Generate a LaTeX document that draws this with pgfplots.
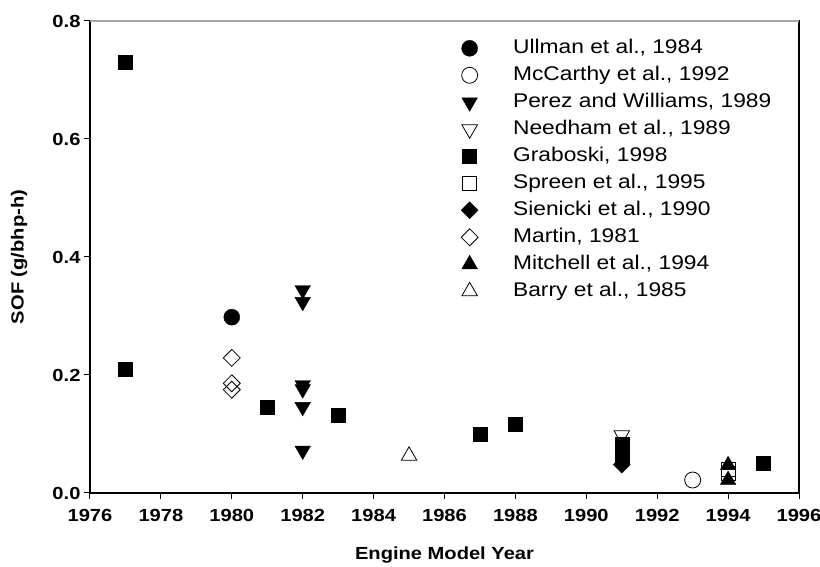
\documentclass[border=0pt]{standalone}
\usepackage{fontspec}
\setmainfont{Liberation Sans}[FakeStretch=1.15]
\usepackage{pgfplots}
\pgfplotsset{compat=1.18}
\newcommand{\lgap}{\hspace*{33pt}}
\begin{document}
\begin{tikzpicture}
\path[use as bounding box] (-90pt,-74pt) rectangle (730pt,493pt);
\begin{axis}[
  at={(0pt,0pt)}, anchor=south west,
  scale only axis, width=709pt, height=472pt,
  xmin=1976, xmax=1996, ymin=0, ymax=0.8,
  xtick={1976,1978,1980,1982,1984,1986,1988,1990,1992,1994,1996},
  ytick={0,0.2,0.4,0.6,0.8},
  /pgf/number format/assume math mode=true,
  xticklabel style={/pgf/number format/1000 sep={}, yshift=-7pt},
  yticklabel style={/pgf/number format/fixed, /pgf/number format/fixed zerofill, /pgf/number format/precision=1},
  tick label style={font=\fontsize{17.5}{19}\selectfont\bfseries},
  tick align=outside, xtick pos=left, ytick pos=left,
  major tick length=6pt,
  axis line style={black, line width=1.1pt},
  tick style={black, line width=1pt},
  xlabel={Engine Model Year}, ylabel={SOF (g/bhp-h)},
  xlabel style={at={(axis description cs:0.5,-0.131)}, anchor=center, font=\fontsize{17.5}{19}\selectfont\bfseries},
  ylabel style={at={(axis description cs:-0.1,0.5)}, anchor=center, font=\fontsize{17.5}{19}\selectfont\bfseries},
  legend cell align=left,
  legend style={draw=none, fill=none, at={(axis description cs:0.519,0.968)}, anchor=north west,
    font=\fontsize{19.8}{21}\selectfont, row sep=7pt,
    nodes={inner ysep=1pt, text height=14pt, text depth=4pt}},
]
\addplot[only marks, mark=*, mark size=8pt, mark options={fill=black, draw=black}] coordinates {(1980,0.298)};
\addlegendentry{\lgap Ullman et al.,  1984}
\addplot[only marks, mark=o, mark size=8pt, mark options={fill=white, draw=black, line width=0.8pt}] coordinates {(1993,0.022)};
\addlegendentry{\lgap McCarthy et al., 1992}
\addplot[only marks, mark=triangle*, mark size=9pt, mark options={rotate=180, fill=black, draw=black}] coordinates {
(1982,0.344) (1982,0.324) (1982,0.183) (1982,0.176) (1982,0.146) (1982,0.072)};
\addlegendentry{\lgap Perez and Williams, 1989}
\addplot[only marks, mark=triangle, mark size=9pt, mark options={rotate=180, fill=white, draw=black, line width=0.8pt}] coordinates {(1991,0.098)};
\addlegendentry{\lgap Needham et al., 1989}
\addplot[only marks, mark=square*, mark size=7pt, mark options={fill=black, draw=black}] coordinates {
(1977,0.730) (1977,0.210) (1981,0.145) (1983,0.132) (1987,0.100) (1988,0.117) (1991,0.082) (1991,0.072) (1991,0.062) (1995,0.051)};
\addlegendentry{\lgap Graboski, 1998}
\addplot[only marks, mark=square, mark size=7pt, mark options={fill=white, draw=black, line width=0.8pt}] coordinates {(1994,0.040) (1994,0.033)};
\addlegendentry{\lgap Spreen et al.,  1995}
\addplot[only marks, mark=square*, mark size=6pt, mark options={rotate=45, fill=black, draw=black}] coordinates {(1991,0.048)};
\addlegendentry{\lgap Sienicki et al., 1990}
\addplot[only marks, mark=square, mark size=6pt, mark options={rotate=45, fill=white, draw=black, line width=0.8pt}] coordinates {(1980,0.229) (1980,0.186) (1980,0.175)};
\addlegendentry{\lgap Martin, 1981}
\addplot[only marks, mark=triangle*, mark size=9pt, mark options={fill=black, draw=black}] coordinates {(1994,0.047) (1994,0.022)};
\addlegendentry{\lgap Mitchell et al., 1994}
\addplot[only marks, mark=triangle, mark size=9pt, mark options={fill=white, draw=black, line width=0.8pt}] coordinates {(1985,0.063)};
\addlegendentry{\lgap Barry et al., 1985}
\draw[gray!70, line width=1.1pt] (rel axis cs:0,1) -- (rel axis cs:1,1);
\end{axis}
\end{tikzpicture}
\end{document}
